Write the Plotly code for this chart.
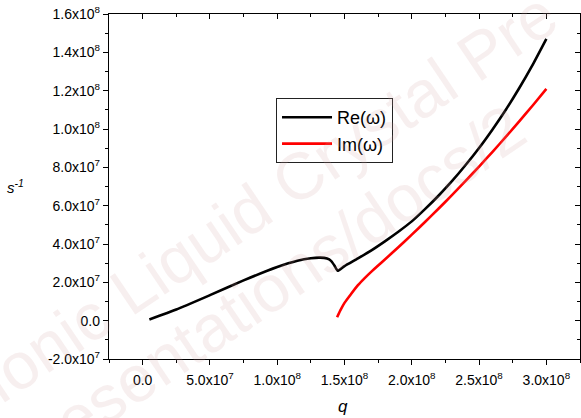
import plotly.graph_objects as go

# ---- data ----
re_q = [0.05e8, 0.25e8, 0.5e8, 0.75e8, 1.0e8, 1.15e8, 1.25e8, 1.32e8, 1.37e8, 1.40e8,
        1.425e8, 1.45e8, 1.5e8, 1.6e8, 1.7e8, 1.8e8, 1.9e8, 2.0e8, 2.1e8, 2.2e8,
        2.3e8, 2.4e8, 2.5e8, 2.6e8, 2.7e8, 2.8e8, 2.9e8, 3.0e8]
re_w = [0.6e6, 5.8e6, 1.33e7, 2.1e7, 2.8e7, 3.13e7, 3.26e7, 3.29e7, 3.24e7, 3.12e7,
        2.88e7, 2.6e7, 2.85e7, 3.25e7, 3.67e7, 4.14e7, 4.64e7, 5.18e7, 5.83e7, 6.53e7,
        7.29e7, 8.12e7, 9.01e7, 9.98e7, 1.102e8, 1.215e8, 1.337e8, 1.47e8]

im_q = [1.445e8, 1.47e8, 1.5e8, 1.55e8, 1.6e8, 1.65e8, 1.7e8, 1.75e8, 1.8e8, 1.9e8,
        2.0e8, 2.1e8, 2.2e8, 2.3e8, 2.4e8, 2.5e8, 2.6e8, 2.7e8, 2.8e8, 2.9e8, 3.0e8]
im_w = [1.8e6, 5.5e6, 9.3e6, 1.4e7, 1.85e7, 2.22e7, 2.56e7, 2.88e7, 3.19e7, 3.83e7,
        4.49e7, 5.16e7, 5.85e7, 6.56e7, 7.29e7, 8.04e7, 8.81e7, 9.6e7, 1.041e8,
        1.124e8, 1.209e8]

x_tickvals = [0, 5e7, 1e8, 1.5e8, 2e8, 2.5e8, 3e8]
x_ticktext = ["0.0", "5.0x10<sup>7</sup>", "1.0x10<sup>8</sup>", "1.5x10<sup>8</sup>",
              "2.0x10<sup>8</sup>", "2.5x10<sup>8</sup>", "3.0x10<sup>8</sup>"]
y_tickvals = [-2e7, 0, 2e7, 4e7, 6e7, 8e7, 1e8, 1.2e8, 1.4e8, 1.6e8]
y_ticktext = ["-2.0x10<sup>7</sup>", "0.0", "2.0x10<sup>7</sup>", "4.0x10<sup>7</sup>",
              "6.0x10<sup>7</sup>", "8.0x10<sup>7</sup>", "1.0x10<sup>8</sup>",
              "1.2x10<sup>8</sup>", "1.4x10<sup>8</sup>", "1.6x10<sup>8</sup>"]

x_range = [-2.5e7, 3.25e8]
y_range = [-2e7, 1.6e8]

FONT = "Liberation Sans, Arial, sans-serif"

fig = go.Figure()

# faint watermark
wm_color = "rgba(205,160,160,0.17)"
fig.add_annotation(text="Ionic Liquid Crystal Pre", xref="paper", yref="paper",
                   x=0.338, y=0.47, xanchor="center", yanchor="middle",
                   showarrow=False, textangle=-34,
                   font=dict(family=FONT, size=66, color=wm_color))
fig.add_annotation(text="Presentations/docs/2", xref="paper", yref="paper",
                   x=0.325, y=0.191, xanchor="center", yanchor="middle",
                   showarrow=False, textangle=-34,
                   font=dict(family=FONT, size=66, color=wm_color))

fig.add_trace(go.Scatter(x=re_q, y=re_w, mode="lines", name="Re(\u03c9)",
                         line=dict(color="black", width=2.6, shape="spline",
                                   smoothing=0.5)))
fig.add_trace(go.Scatter(x=im_q, y=im_w, mode="lines", name="Im(\u03c9)",
                         line=dict(color="#ff0000", width=2.6, shape="spline",
                                   smoothing=0.5)))
# invisible trace to carry the mirrored (inside-tick) axes
fig.add_trace(go.Scatter(x=re_q, y=re_w, mode="lines", xaxis="x2", yaxis="y2",
                         line=dict(color="rgba(0,0,0,0)", width=0),
                         showlegend=False, hoverinfo="skip"))

axis_common = dict(showgrid=False, zeroline=False, showline=True,
                   linecolor="black", linewidth=1.3, ticks="outside",
                   ticklen=5, tickwidth=1.2, tickcolor="black",
                   ticklabeloverflow="allow",
                   tickfont=dict(family=FONT, size=14, color="black"))
mirror_common = dict(showgrid=False, zeroline=False, showline=True,
                     linecolor="black", linewidth=1.3, ticks="inside",
                     ticklen=5, tickwidth=1.2, tickcolor="black",
                     showticklabels=False)

fig.update_layout(
    width=581, height=418,
    margin=dict(l=109, r=1, t=14, b=59),
    paper_bgcolor="white", plot_bgcolor="white",
    xaxis=dict(range=x_range, tickmode="array", tickvals=x_tickvals,
               ticktext=x_ticktext, ticklabelstandoff=3,
               minor=dict(dtick=2.5e7, tick0=0, ticks="outside", ticklen=3,
                          tickwidth=1.2, tickcolor="black"),
               **axis_common),
    yaxis=dict(range=y_range, tickmode="array", tickvals=y_tickvals,
               ticktext=y_ticktext,
               minor=dict(dtick=1e7, tick0=0, ticks="outside", ticklen=3,
                          tickwidth=1.2, tickcolor="black"),
               **axis_common),
    xaxis2=dict(range=x_range, overlaying="x", side="top", anchor="y",
                tickmode="array", tickvals=x_tickvals,
                minor=dict(dtick=2.5e7, tick0=0, ticks="inside", ticklen=3,
                           tickwidth=1.2, tickcolor="black"),
                **mirror_common),
    yaxis2=dict(range=y_range, overlaying="y", side="right", anchor="x",
                tickmode="array", tickvals=y_tickvals,
                minor=dict(dtick=1e7, tick0=0, ticks="inside", ticklen=3,
                           tickwidth=1.2, tickcolor="black"),
                **mirror_common),
    legend=dict(x=0.3546, y=0.7565, xanchor="left", yanchor="top",
                bgcolor="white", bordercolor="#222222", borderwidth=1,
                font=dict(family=FONT, size=18, color="black"),
                itemwidth=50, tracegroupgap=0),
    showlegend=True,
)

# axis titles
fig.add_annotation(text="<i>s<sup>-1</sup></i>", xref="paper", yref="paper",
                   x=-0.1975, y=0.5014, xanchor="center", yanchor="middle",
                   showarrow=False,
                   font=dict(family=FONT, size=15, color="black"))
fig.add_annotation(text="<i>q</i>", xref="paper", yref="paper",
                   x=0.497, y=-0.138, xanchor="center", yanchor="middle",
                   showarrow=False,
                   font=dict(family=FONT, size=17, color="black"))

# remove the default page margin so the figure sits at the window's top-left
fig.write_html("out.html",
               config={"displayModeBar": False},
               post_script="document.body.style.margin='0px';")
